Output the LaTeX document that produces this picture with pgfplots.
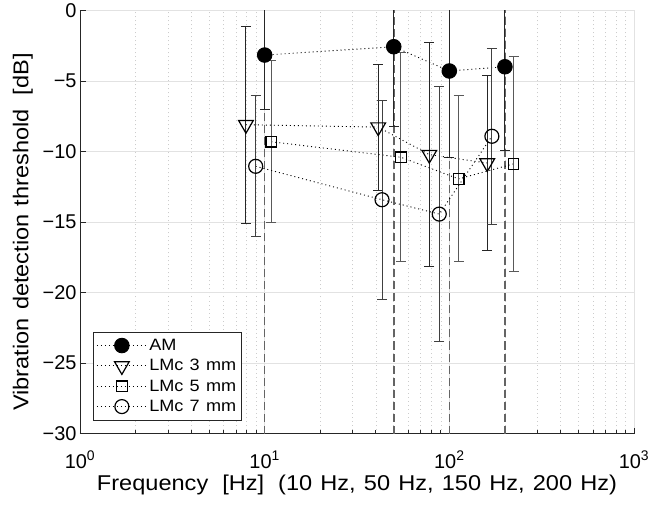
\documentclass[border=0pt]{standalone}
\usepackage{fontspec}
\setmainfont{Liberation Sans}
\newfontfamily\labelfont{Liberation Sans}[FakeStretch=1.1, WordSpace=1.25]
\usepackage{pgfplots}
\pgfplotsset{compat=1.18}
\definecolor{gridgray}{RGB}{226,226,226}
\definecolor{vline}{RGB}{100,100,100}

\begin{document}
\begin{tikzpicture}
\begin{axis}[
  scale only axis, width=554bp, height=423bp,
  xmode=log, xmin=1, xmax=1000, ymin=-30, ymax=0,
  axis x line*=bottom, axis y line*=left,
  axis line style={black!85, line width=0.8bp},
  tick align=inside,
  tick style={black!85, line width=0.8bp},
  major tick length=6bp, minor tick length=4bp,
  xtick={1,10,100,1000},
  xticklabels={10\textsuperscript{0},10\textsuperscript{1},10\textsuperscript{2},10\textsuperscript{3}},
  xticklabel style={yshift=-14bp},
  ytick={-30,-25,-20,-15,-10,-5,0},
  yticklabels={−30,−25,−20,−15,−10,−5,0},
  xmajorgrids, ymajorgrids, xminorgrids,
  major grid style={gridgray, line width=0.8bp},
  minor grid style={black!20, line width=0.6bp, dash pattern=on 1bp off 3bp},
  ticklabel style={font=\fontsize{20}{24}\selectfont},
  label style={font=\labelfont\fontsize{21.5}{26}\selectfont},
  xlabel={Frequency\hspace{14bp}[Hz]\hspace{14bp}(10 Hz, 50 Hz, 150 Hz, 200 Hz)},
  ylabel={Vibration detection threshold\hspace{14bp}[dB]},
  ylabel style={yshift=3bp, xshift=-10bp},
  legend style={at={(0.0235,0.031)}, anchor=south west, draw=black!85, line width=0.8bp,
    fill=white, font=\labelfont\fontsize{16.5}{20}\selectfont, legend cell align=left,
    inner xsep=3bp, inner ysep=5bp, row sep=3.5bp},
  legend image code/.code={\draw[mark repeat=2,mark phase=2,#1] plot coordinates {(0bp,0bp)(25bp,0bp)(50bp,0bp)};},
  clip=true,
]
% vertical reference lines
\addplot[forget plot, vline, line width=1.6bp, dash pattern=on 8bp off 4bp] coordinates {(10,-30)(10,0)};
\addplot[forget plot, vline, line width=1.6bp, dash pattern=on 8bp off 4bp] coordinates {(50,-30)(50,0)};
\addplot[forget plot, vline, line width=1.6bp, dash pattern=on 8bp off 4bp] coordinates {(100,-30)(100,0)};
\addplot[forget plot, vline, line width=1.6bp, dash pattern=on 8bp off 4bp] coordinates {(200,-30)(200,0)};

% AM
\addplot[black, line width=0.9bp, dash pattern=on 1bp off 3bp,
  mark=*, mark size=7.3bp, mark options={solid, fill=black},
  error bars/.cd, y dir=both, y explicit,
  error bar style={solid, black!85, line width=1bp},
  error mark options={rotate=90, solid, black!85, mark size=5bp, line width=1bp}]
  coordinates {(10,-3.16) +- (0,3.83) (50,-2.57) +- (0,5.68) (100,-4.29) +- (0,6.16) (200,-3.99) +- (0,5.96)};
\addlegendentry{AM}

% LMc 3 mm
\addplot[black, line width=0.9bp, dash pattern=on 1bp off 3bp,
  mark=triangle, mark size=8.5bp, mark options={solid, rotate=180, line width=1.2bp, fill=white},
  error bars/.cd, y dir=both, y explicit,
  error bar style={solid, black!85, line width=1bp},
  error mark options={rotate=90, solid, black!85, mark size=5bp, line width=1bp}]
  coordinates {(7.92,-8.1) +- (0,7.0) (41.2,-8.27) +- (0,4.47) (77.9,-10.22) +- (0,7.96) (160.4,-10.82) +- (0,6.22)};
\addlegendentry{LMc 3 mm}

% LMc 5 mm
\addplot[black, line width=0.9bp, dash pattern=on 1bp off 3bp,
  mark=square, mark size=5.3bp, mark options={solid, line width=1.2bp, fill=white},
  error bars/.cd, y dir=both, y explicit,
  error bar style={solid, black!65, line width=1bp},
  error mark options={rotate=90, solid, black!65, mark size=5bp, line width=1bp}]
  coordinates {(10.86,-9.31) +- (0,5.75) (54.7,-10.41) +- (0,7.42) (112.3,-11.94) +- (0,5.89) (222.8,-10.88) +- (0,7.6)};
\addlegendentry{LMc 5 mm}

% LMc 7 mm
\addplot[black, line width=0.9bp, dash pattern=on 1bp off 3bp,
  mark=o, mark size=7bp, mark options={solid, line width=1.2bp, fill=white},
  error bars/.cd, y dir=both, y explicit,
  error bar style={solid, black!75, line width=1bp},
  error mark options={rotate=90, solid, black!75, mark size=5bp, line width=1bp}]
  coordinates {(8.94,-11.05) +- (0,5.0) (43.2,-13.42) +- (0,7.07) (88.2,-14.44) +- (0,9.03) (170,-8.92) +- (0,6.26)};
\addlegendentry{LMc 7 mm}
\end{axis}
\pgfresetboundingbox
\path ([xshift=-80bp,yshift=-74.7bp]current axis.south west) rectangle ([xshift=15bp,yshift=10.5bp]current axis.north east);
\end{tikzpicture}
\end{document}
